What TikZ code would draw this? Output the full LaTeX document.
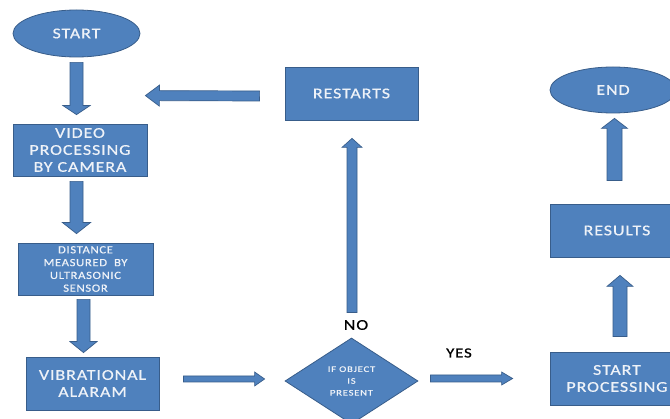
\documentclass[tikz,border=0pt]{standalone}
\usepackage{fontspec}
\setmainfont{Carlito}
\newfontfamily\spacedfont[FakeStretch=1.2,LetterSpace=6,FakeBold=0.6]{Carlito}
\newfontfamily\widefont[FakeStretch=1.15,LetterSpace=6,FakeBold=0.5]{Carlito}
\newfontfamily\tinyfont[FakeStretch=1.25,LetterSpace=9,FakeBold=0.5]{Carlito}
\usetikzlibrary{shapes.geometric,calc}
\definecolor{boxblue}{HTML}{4F81BD}
\definecolor{edgeblue}{HTML}{385D8A}
\definecolor{boxtext}{HTML}{EEF2F8}
\tikzset{
  stepbox/.style={rectangle,draw=edgeblue,fill=boxblue,line width=0.8pt,
    text=boxtext,align=center,inner sep=1pt,minimum width=134pt,minimum height=53pt},
  termnode/.style={ellipse,draw=edgeblue,fill=boxblue,line width=0.8pt,
    text=boxtext,align=center,inner sep=0pt},
  decnode/.style={diamond,draw=edgeblue,fill=boxblue,line width=0.8pt,
    text=boxtext,align=center,inner sep=0pt},
  blockarr/.style={draw=edgeblue,fill=boxblue,line width=0.7pt,line join=miter},
  lbl/.style={text=black,inner sep=0pt},
  bigtext/.style={font=\spacedfont\fontsize{15}{17}\selectfont}
}
% #1 from, #2 to, #3 half shaft, #4 half head, #5 head length
\newcommand\blockarrow[5]{%
  \coordinate (hb) at ($(#2)!#5!(#1)$);
  \path[blockarr]
    ($(#1)!#3!90:(#2)$) -- ($(hb)!#3!90:(#2)$) -- ($(hb)!#4!90:(#2)$) --
    (#2) --
    ($(hb)!#4!-90:(#2)$) -- ($(hb)!#3!-90:(#2)$) -- ($(#1)!#3!-90:(#2)$) -- cycle;
}
\begin{document}
\begin{tikzpicture}[x=1pt,y=-1pt]
\clip (0,0) rectangle (670,419);
\fill[white] (0,0) rectangle (670,419);

\node[termnode,minimum width=127pt,minimum height=47pt,bigtext] (start) at (76.5,33.5) {START};
\node[stepbox,minimum height=52pt,bigtext] (video) at (80,150) {VIDEO\\PROCESSING\\BY CAMERA};
\node[stepbox,minimum width=135pt,minimum height=52pt,font=\widefont\fontsize{11}{12.8}\selectfont] (dist) at (85.5,269) {DISTANCE\\MEASURED\ \ BY\\ULTRASONIC\\SENSOR};
\node[stepbox,minimum width=133pt,bigtext] (vib) at (92.5,383.5) {VIBRATIONAL\\ALARAM};
\node[stepbox,minimum width=133pt,bigtext] (restarts) at (351.5,93.5) {RESTARTS};
\node[decnode,minimum width=133pt,minimum height=86pt,font=\tinyfont\fontsize{8.5}{11.8}\selectfont] (dec) at (351.5,381) {IF OBJECT\\IS\\PRESENT};
\node[stepbox,bigtext] (sp) at (617,378.5) {START\\PROCESSING};
\node[stepbox,bigtext] (res) at (617,230.5) {RESULTS};
\node[termnode,minimum width=126pt,minimum height=46pt,bigtext] (end) at (613,90) {END};

\node[lbl,bigtext] (no) at (356,325) {NO};
\node[lbl,font=\spacedfont\fontsize{14}{16}\selectfont] (yes) at (459,353) {YES};

% arrow end coordinates
\coordinate (a1s) at ($(start.south)+(0,5)$);
\coordinate (a1e) at ($(video.north)+(-3.5,-9)$);
\coordinate (a2s) at ($(video.south)+(-3.5,5)$);
\coordinate (a2e) at ($(dist.north)+(-9,-9)$);
\coordinate (a3s) at ($(dist.south)+(-2,4)$);
\coordinate (a3e) at ($(vib.north)+(-9,-4)$);
\coordinate (a4s) at ($(vib.east)+(24,-4.5)$);
\coordinate (a4e) at ($(dec.west)+(-20,-2)$);
\coordinate (a5s) at ($(dec.north)+(0.5,-25)$);
\coordinate (a5e) at ($(restarts.south)+(0.5,18)$);
\coordinate (a6s) at ($(restarts.west)+(-25,2.5)$);
\coordinate (a6e) at ($(video.north east)+(-2,-28)$);
\coordinate (a7s) at ($(dec.east)+(12,-2.5)$);
\coordinate (a7e) at ($(sp.west)+(-37,0)$);
\coordinate (a8s) at ($(sp.north)+(3,-15)$);
\coordinate (a8e) at ($(res.south)+(3,18)$);
\coordinate (a9s) at ($(res.north)+(-2.5,-23)$);
\coordinate (a9e) at ($(end.south)+(1.5,5)$);

\blockarrow{a1s}{a1e}{6.5pt}{13.5pt}{9pt}
\blockarrow{a2s}{a2e}{6.5pt}{14pt}{11pt}
\blockarrow{a3s}{a3e}{6.5pt}{13.5pt}{11pt}
\blockarrow{a4s}{a4e}{3pt}{7pt}{10pt}
\blockarrow{a5s}{a5e}{5pt}{10pt}{9pt}
\blockarrow{a6s}{a6e}{5pt}{10.5pt}{14pt}
\blockarrow{a7s}{a7e}{3.5pt}{6.5pt}{11pt}
\blockarrow{a8s}{a8e}{7pt}{13pt}{11pt}
\blockarrow{a9s}{a9e}{7.5pt}{13pt}{10pt}
\end{tikzpicture}
\end{document}
